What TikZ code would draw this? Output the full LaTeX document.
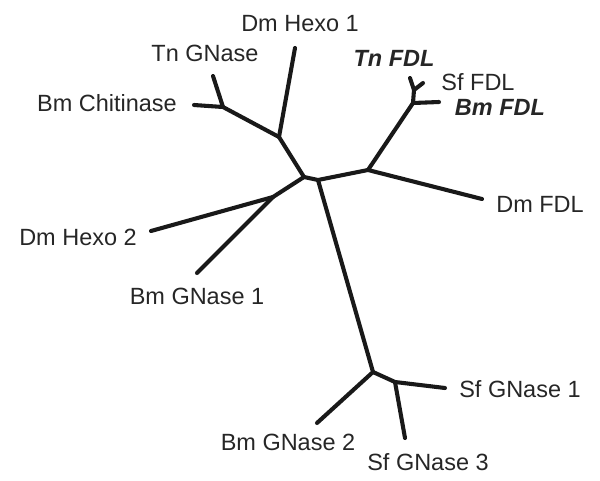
\documentclass[tikz,border=0pt]{standalone}
\usepackage{fontspec}
\setmainfont{Liberation Sans}

\begin{document}
\begin{tikzpicture}[
    x=0.025cm, y=-0.025cm,
    branch/.style={line width=2.9pt, line cap=round, line join=round, color=black!90},
    taxon/.style={font=\fontsize{16.7}{20}\selectfont, text=black!85, inner sep=0pt},
    taxonbf/.style={taxon, font=\fontsize{16.7}{20}\selectfont\bfseries\itshape}
]
\useasboundingbox (0,0) rectangle (600,481);

% Inner nodes
\coordinate (R1) at (304,177);
\coordinate (R2) at (318,180);
\coordinate (A) at (279,137);
\coordinate (B) at (223,107);
\coordinate (C) at (273,197);
\coordinate (D) at (368,170);
\coordinate (E) at (413,103);
\coordinate (F) at (414,90);
\coordinate (G) at (373,372);
\coordinate (H) at (395,382);

% Leaf ends
\coordinate (hexo1) at (295,48);
\coordinate (tngn) at (213,76);
\coordinate (bmchi) at (194,105);
\coordinate (tnfdl) at (410,78);
\coordinate (sffdl) at (423,83);
\coordinate (bmfdl) at (439,102);
\coordinate (dmfdl) at (482,199);
\coordinate (hexo2) at (151,231);
\coordinate (bmgn1) at (197,273);
\coordinate (bmgn2) at (317,423);
\coordinate (sfgn1) at (445,388);
\coordinate (sfgn3) at (405,438);

% Labels
\node[taxon] (lhexo1) at (300,24) {Dm Hexo 1};
\node[taxon] (ltngn) at (205,53) {Tn GNase};
\node[taxon] (lbmchi) at (107,103) {Bm Chitinase};
\node[taxonbf] (ltnfdl) at (394,58) {Tn FDL};
\node[taxon] (lsffdl) at (478,82) {Sf FDL};
\node[taxonbf] (lbmfdl) at (500,107) {Bm FDL};
\node[taxon] (ldmfdl) at (540,204) {Dm FDL};
\node[taxon] (lhexo2) at (78,237) {Dm Hexo 2};
\node[taxon] (lbmgn1) at (197,296) {Bm GNase 1};
\node[taxon] (lbmgn2) at (288,442) {Bm GNase 2};
\node[taxon] (lsfgn1) at (520,389) {Sf GNase 1};
\node[taxon] (lsfgn3) at (428,462) {Sf GNase 3};

% Branches
\draw[branch] (bmchi) -- (B) -- (A) -- (R1) -- (C) -- (hexo2);
\draw[branch] (tngn) -- (B);
\draw[branch] (hexo1) -- (A);
\draw[branch] (C) -- (bmgn1);
\draw[branch] (R1) -- (R2) -- (D) -- (dmfdl);
\draw[branch] (D) -- (E) -- (F) -- (tnfdl);
\draw[branch] (F) -- (sffdl);
\draw[branch] (E) -- (bmfdl);
\draw[branch] (R2) -- (G) -- (bmgn2);
\draw[branch] (G) -- (H) -- (sfgn1);
\draw[branch] (H) -- (sfgn3);

\end{tikzpicture}
\end{document}
